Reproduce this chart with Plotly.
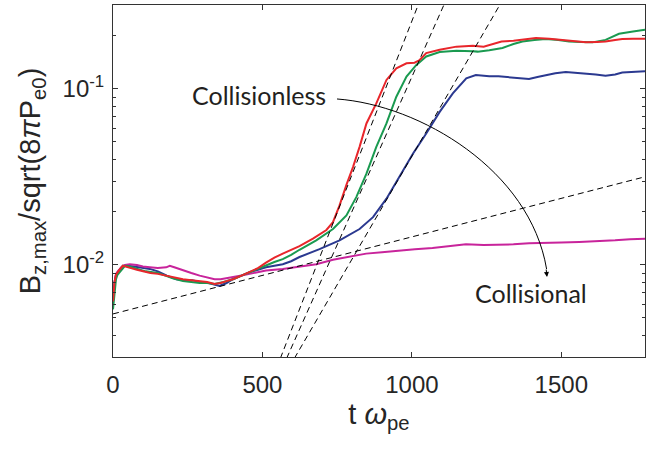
import plotly.graph_objects as go

# ---------------- data ----------------
red_t = [0, 5, 10, 15, 22, 33, 45, 60, 80, 100, 125, 150, 178, 205, 234, 262, 290, 315, 340, 360, 380, 401,
         430, 457, 485, 512, 540, 568, 596, 624, 669, 714, 736, 758, 781, 803, 825, 848, 881, 915, 948, 982,
         1009, 1026, 1048, 1093, 1149, 1204, 1240, 1270, 1300, 1340, 1380, 1415, 1460, 1504, 1545, 1582,
         1620, 1648, 1680, 1704, 1740, 1780]
red_y = [0.0062, 0.0080, 0.0088, 0.0091, 0.0094, 0.0099, 0.0098, 0.0096, 0.0094, 0.0092, 0.0090, 0.0089,
         0.0087, 0.0085, 0.0083, 0.0082, 0.0081, 0.0080, 0.0078, 0.0079, 0.0081, 0.0083, 0.0087, 0.0091,
         0.0096, 0.0103, 0.0110, 0.0116, 0.0122, 0.0128, 0.0141, 0.0158, 0.0175, 0.0218, 0.0285, 0.0360,
         0.0469, 0.0637, 0.0828, 0.1125, 0.131, 0.140, 0.141, 0.146, 0.160, 0.167, 0.174, 0.176, 0.174,
         0.180, 0.186, 0.188, 0.192, 0.195, 0.193, 0.190, 0.186, 0.184, 0.185, 0.186, 0.190, 0.192, 0.193,
         0.193]

green_t = [0, 5, 10, 15, 20, 28, 40, 55, 70, 90, 110, 130, 150, 175, 200, 234, 262, 290, 315, 340, 370,
           401, 430, 457, 485, 512, 540, 568, 596, 624, 680, 736, 781, 814, 848, 881, 915, 948, 982, 1015,
           1048, 1093, 1149, 1204, 1220, 1259, 1303, 1340, 1370, 1410, 1448, 1490, 1526, 1565, 1604, 1648,
           1693, 1740, 1780]
green_y = [0.0056, 0.0070, 0.0083, 0.0088, 0.0090, 0.0094, 0.0099, 0.0098, 0.0096, 0.0094, 0.0092, 0.0091,
           0.0090, 0.0087, 0.0084, 0.0081, 0.0080, 0.0079, 0.0079, 0.0078, 0.0080, 0.0083, 0.0087, 0.0091,
           0.0095, 0.0099, 0.0104, 0.0108, 0.0114, 0.0122, 0.0138, 0.0160, 0.0191, 0.0243, 0.0330, 0.0469,
           0.0637, 0.0903, 0.1175, 0.137, 0.153, 0.162, 0.165, 0.164, 0.163, 0.166, 0.171, 0.180, 0.186,
           0.190, 0.192, 0.190, 0.186, 0.185, 0.184, 0.190, 0.206, 0.212, 0.217]

blue_t = [0, 5, 10, 15, 22, 33, 50, 70, 90, 123, 150, 180, 212, 240, 265, 290, 320, 356, 380, 401, 430,
          457, 485, 512, 540, 568, 596, 624, 691, 758, 825, 870, 915, 959, 1004, 1048, 1093, 1137, 1182,
          1214, 1259, 1290, 1325, 1360, 1392, 1420, 1448, 1480, 1515, 1550, 1582, 1615, 1648, 1680, 1704,
          1740, 1780]
blue_y = [0.0062, 0.0080, 0.0088, 0.0091, 0.0094, 0.0099, 0.0099, 0.0098, 0.0097, 0.0095, 0.0092, 0.0087,
          0.0083, 0.0082, 0.0082, 0.0080, 0.0079, 0.0076, 0.0079, 0.0083, 0.0087, 0.0091, 0.0094, 0.0097,
          0.0099, 0.0101, 0.0105, 0.0111, 0.0123, 0.0138, 0.0160, 0.0187, 0.0238, 0.0316, 0.0430, 0.0558,
          0.0741, 0.0944, 0.115, 0.120, 0.118, 0.118, 0.117, 0.115, 0.114, 0.117, 0.120, 0.123, 0.125,
          0.124, 0.123, 0.121, 0.119, 0.121, 0.124, 0.125, 0.126]

magenta_t = [0, 5, 10, 18, 28, 40, 56, 80, 100, 123, 150, 178, 190, 205, 234, 262, 290, 315, 340, 360,
             380, 401, 430, 457, 512, 568, 624, 680, 736, 790, 847, 900, 958, 1010, 1069, 1120, 1181, 1240,
             1292, 1340, 1392, 1450, 1500, 1560, 1615, 1680, 1730, 1780]
magenta_y = [0.0065, 0.0080, 0.0089, 0.0093, 0.0097, 0.0100, 0.0101, 0.0100, 0.0098, 0.0097, 0.0096,
             0.0097, 0.0099, 0.0097, 0.0093, 0.0090, 0.0087, 0.0085, 0.0083, 0.0083, 0.0084, 0.0085,
             0.0087, 0.0089, 0.0093, 0.0095, 0.0098, 0.0101, 0.0107, 0.0111, 0.0116, 0.0118, 0.0121,
             0.0123, 0.0125, 0.0128, 0.0131, 0.0130, 0.0130, 0.0131, 0.0133, 0.0133, 0.0134, 0.0135,
             0.0136, 0.0138, 0.0140, 0.0141]

# exponential fit lines (end points)
fit_slow_t = [0, 1780]
fit_slow_y = [0.00527, 0.0317]
fit1_t = [560, 1021]
fit1_y = [0.00295, 0.30]
fit2_t = [581, 1107]
fit2_y = [0.00295, 0.30]
fit3_t = [607, 1294]
fit3_y = [0.00295, 0.30]

x_ticks = [0, 500, 1000, 1500]
y_ticks = [0.01, 0.1]
y_ticktext = ["10<sup>-2</sup>", "10<sup>-1</sup>"]
y_minor = [0.003, 0.004, 0.005, 0.006, 0.007, 0.008, 0.009,
           0.02, 0.03, 0.04, 0.05, 0.06, 0.07, 0.08, 0.09, 0.2, 0.3]

# ---------------- figure ----------------
fig = go.Figure()
series = [
    (blue_t, blue_y, "#2b3990"),
    (magenta_t, magenta_y, "#c8249b"),
    (green_t, green_y, "#1a9a50"),
    (red_t, red_y, "#e8262b"),
]
for t, y, c in series:
    fig.add_trace(go.Scatter(x=t, y=y, mode="lines", line=dict(color=c, width=2),
                             showlegend=False, hoverinfo="skip"))

for t, y in [(fit_slow_t, fit_slow_y), (fit1_t, fit1_y), (fit2_t, fit2_y), (fit3_t, fit3_y)]:
    fig.add_trace(go.Scatter(x=t, y=y, mode="lines",
                             line=dict(color="black", width=1, dash="6px,4px"),
                             showlegend=False, hoverinfo="skip"))

axis_col = "#333333"
font_main = "Liberation Sans, Arial, sans-serif"

fig.update_layout(
    width=647, height=450,
    margin=dict(l=113, r=2, t=5, b=93),
    paper_bgcolor="white", plot_bgcolor="white",
    font=dict(family=font_main, color="#262626", size=24),
    xaxis=dict(
        range=[0, 1780], tickvals=x_ticks, ticks="inside", ticklen=5, tickwidth=1,
        tickcolor=axis_col, showline=True, linecolor=axis_col, linewidth=1, mirror="allticks",
        showgrid=False, zeroline=False, tickfont=dict(size=24), automargin=False,
        ticklabelstandoff=6,
        title=dict(text="t <i>ω</i><sub>pe</sub>", font=dict(size=29), standoff=6),
    ),
    yaxis=dict(
        type="log", range=[-2.5229, -0.5229], tickvals=y_ticks, ticktext=y_ticktext,
        ticks="inside", ticklen=5, tickwidth=1, tickcolor=axis_col,
        showline=True, linecolor=axis_col, linewidth=1, mirror="allticks",
        showgrid=False, zeroline=False, tickfont=dict(size=24), automargin=False,
        ticklabelstandoff=3,
        minor=dict(tickvals=y_minor, ticks="inside", ticklen=3, tickcolor=axis_col, showgrid=False),
        title=dict(text="B<sub>z,max</sub>/sqrt(8<i>π</i>P<sub>e0</sub>)", font=dict(size=29), standoff=13),
    ),
)

# text labels
fig.add_annotation(x=0.2748, y=0.744, xref="paper", yref="paper", text="Collisionless",
                   showarrow=False, font=dict(family="Lato, sans-serif", size=25, color="#231f20"),
                   xanchor="center", yanchor="middle")
fig.add_annotation(x=0.7866, y=0.182, xref="paper", yref="paper", text="Collisional",
                   showarrow=False, font=dict(family="Lato, sans-serif", size=25, color="#231f20"),
                   xanchor="center", yanchor="middle")

# curved arrow
fig.add_shape(type="path", xref="paper", yref="paper",
              path="M 0.4211,0.7330 C 0.5771,0.7159 0.7838,0.5313 0.8150,0.2500",
              line=dict(color="black", width=1))
fig.add_annotation(x=0.8158, y=0.2273, xref="paper", yref="paper", text="",
                   showarrow=True, ax=-1, ay=-9, arrowhead=2, arrowsize=1, arrowwidth=1,
                   arrowcolor="black")

fig.write_html("out.html", config={"displayModeBar": False},
               post_script="document.body.style.margin='0';")
